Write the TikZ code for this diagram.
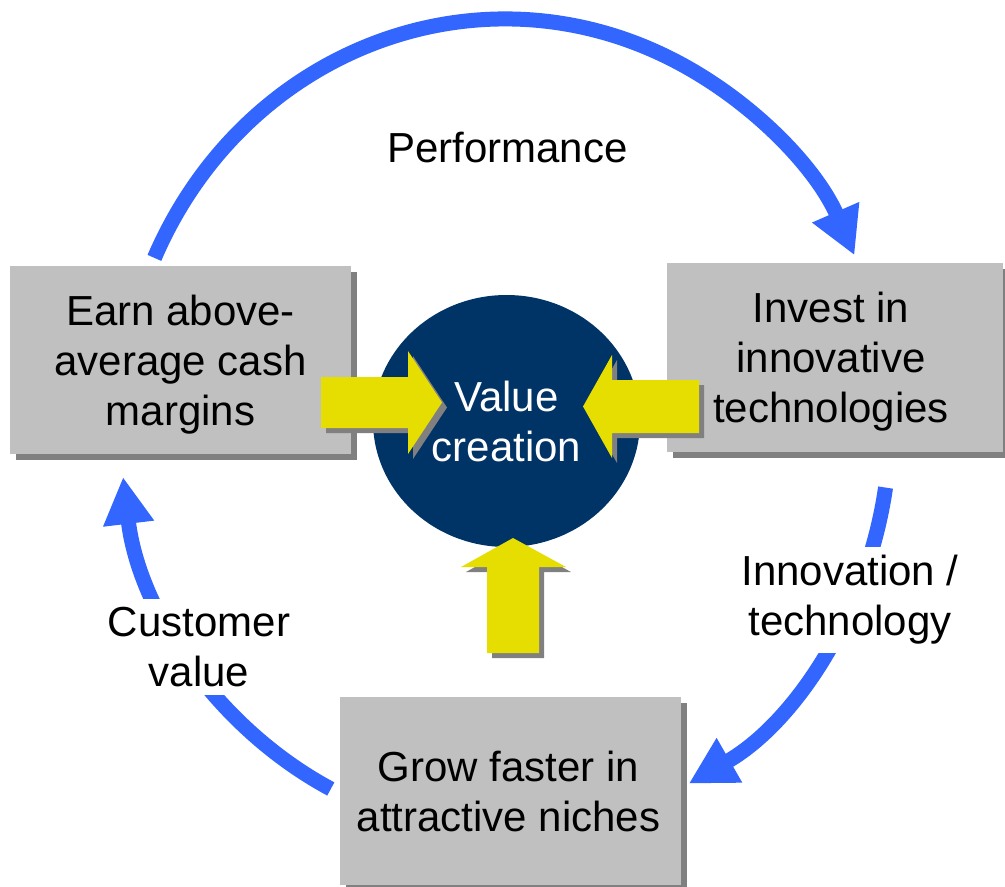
\documentclass[tikz,border=0pt]{standalone}
\usepackage{fontspec}
\setmainfont{Liberation Sans}
\usetikzlibrary{arrows.meta,shadows,calc,shapes.geometric}
\definecolor{boxgray}{RGB}{192,192,192}
\definecolor{shadowgray}{RGB}{128,128,128}
\definecolor{navy}{RGB}{0,51,102}
\definecolor{yel}{RGB}{230,222,0}
\definecolor{arcblue}{RGB}{51,102,255}
\begin{document}
\begin{tikzpicture}[x=1pt,y=-1pt,
  big/.style={font=\fontsize{42}{50}\selectfont},
  box/.style={fill=boxgray, inner sep=0pt,
    drop shadow={shadow xshift=6pt, shadow yshift=-6pt, fill=shadowgray, opacity=1}},
  boxtext/.style={big, align=center, inner sep=0pt},
  lbl/.style={big, align=center, fill=white, inner sep=8pt},
  cyc/.style={draw=arcblue, line width=15pt, -{Triangle[length=47pt,width=48pt]}},
]
\useasboundingbox (0,0) rectangle (1005,887);

% boxes
\node[box, minimum width=341pt, minimum height=188pt] (earn) at (180.5,360) {};
\node[box, minimum width=336pt, minimum height=189pt] (invest) at (835,357.5) {};
\node[box, minimum width=341pt, minimum height=188pt] (grow) at (510.5,791) {};
\node[boxtext] (earnt) at ($(earn)+(0,5)$) {Earn above-\\average cash\\margins};
\node[boxtext] (investt) at ($(invest)+(-4,4)$) {Invest in\\innovative\\technologies};
\node[boxtext] (growt) at ($(grow)+(-2,0.5)$) {Grow faster in\\attractive niches};

% centre
\node[ellipse, fill=navy, text=white, big, align=center, inner sep=0pt,
  minimum width=267pt, minimum height=252pt] (value) at (506.5,421)
  {Value\\creation};

% yellow arrows with shadows
\foreach \o/\c in {5/shadowgray,0/yel}{
  \fill[\c, shift={(\o,\o)}] (321,377) -- (408,377) -- (408,351) -- (442,402.5)
    -- (408,454) -- (408,428) -- (321,428) -- cycle;
  \fill[\c, shift={(\o,\o)}] (699,380) -- (612,380) -- (612,355) -- (583,406.5)
    -- (612,458) -- (612,433) -- (699,433) -- cycle;
  \fill[\c, shift={(\o,\o)}] (487,653) -- (487,567) -- (461,567) -- (513,538)
    -- (566,567) -- (539,567) -- (539,653) -- cycle;
}

% blue cycle arcs
\coordinate (C) at (505,426);
\coordinate (s1) at ($(C)+(204.4:385 and 407)$);
\coordinate (s2) at ($(C)+(8.7:385 and 407)$);
\coordinate (s3) at ($(C)+(116.9:385 and 407)$);
\draw[cyc] (s1) arc[start angle=204.4, end angle=335.2, x radius=385, y radius=407];
\draw[cyc] (s2) arc[start angle=8.7, end angle=61.5, x radius=385, y radius=407];
\draw[cyc] (s3) arc[start angle=116.9, end angle=172.8, x radius=385, y radius=407];

% labels
\node[lbl] (perf) at (507.5,147.5) {Performance};
\node[lbl] (innov) at (850,600) {Innovation /\\technology};
\node[lbl] (cust) at (199,647) {Customer\\value};
\end{tikzpicture}
\end{document}
